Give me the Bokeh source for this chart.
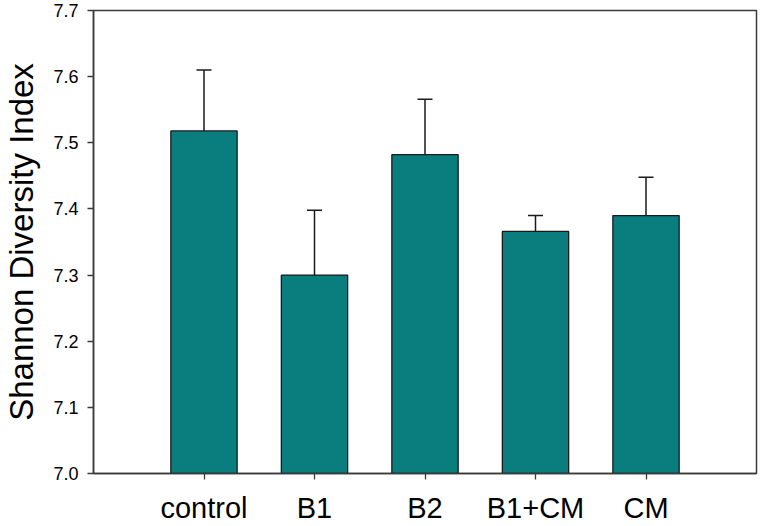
from bokeh.plotting import figure
from bokeh.models import ColumnDataSource, Whisker, TeeHead, FixedTicker, NumeralTickFormatter
from bokeh.embed import file_html
from bokeh.resources import INLINE

categories = ["control", "B1", "B2", "B1+CM", "CM"]
means = [7.518, 7.300, 7.482, 7.366, 7.390]
errors = [0.092, 0.098, 0.084, 0.024, 0.058]
y_ticks = [7.0, 7.1, 7.2, 7.3, 7.4, 7.5, 7.6, 7.7]

positions = list(range(1, len(categories) + 1))
source = ColumnDataSource(dict(
    x=positions,
    top=means,
    upper=[m + e for m, e in zip(means, errors)],
))

FONT = "Liberation Sans"
AX = "#3a3a3a"

p = figure(width=760, height=526, x_range=(0, len(categories) + 1), y_range=(7.0, 7.7),
           output_backend="svg", toolbar_location=None,
           min_border_left=92, min_border_right=4, min_border_top=10, min_border_bottom=51)

p.vbar(x="x", top="top", bottom=7.0, width=0.6, source=source,
       fill_color="#0a7e7e", line_color="#1a1a1a", line_width=1.3)

w = Whisker(source=source, base="x", lower="top", upper="upper", dimension="height",
            line_color="#1a1a1a", line_width=1.5,
            upper_head=TeeHead(size=15, line_color="#1a1a1a", line_width=1.5),
            lower_head=None)
p.add_layout(w)

p.xgrid.visible = False
p.ygrid.visible = False
p.outline_line_color = AX
p.outline_line_width = 1.5
p.background_fill_color = "white"
p.border_fill_color = "white"

xa = p.xaxis[0]
xa.ticker = FixedTicker(ticks=positions)
xa.major_label_overrides = {pos: lab for pos, lab in zip(positions, categories)}
xa.major_label_text_font = FONT
xa.major_label_text_font_size = "29px"
xa.major_label_text_color = "black"
xa.major_label_standoff = 12
xa.major_tick_out = 6
xa.major_tick_in = 0
xa.minor_tick_line_color = None
xa.axis_line_color = AX
xa.axis_line_width = 1.5
xa.major_tick_line_color = AX
xa.major_tick_line_width = 1.3

ya = p.yaxis[0]
ya.ticker = FixedTicker(ticks=y_ticks)
ya.formatter = NumeralTickFormatter(format="0.0")
ya.major_label_text_font = FONT
ya.major_label_text_font_size = "18px"
ya.major_label_text_color = "black"
ya.major_label_standoff = 9
ya.major_tick_out = 6
ya.major_tick_in = 0
ya.minor_tick_line_color = None
ya.axis_line_color = AX
ya.axis_line_width = 1.5
ya.major_tick_line_color = AX
ya.major_tick_line_width = 1.3
ya.axis_label = "Shannon Diversity Index"
ya.axis_label_text_font = FONT
ya.axis_label_text_font_size = "33px"
ya.axis_label_text_font_style = "normal"
ya.axis_label_text_color = "black"
ya.axis_label_standoff = 10

open("out.html", "w").write(file_html(p, INLINE))
